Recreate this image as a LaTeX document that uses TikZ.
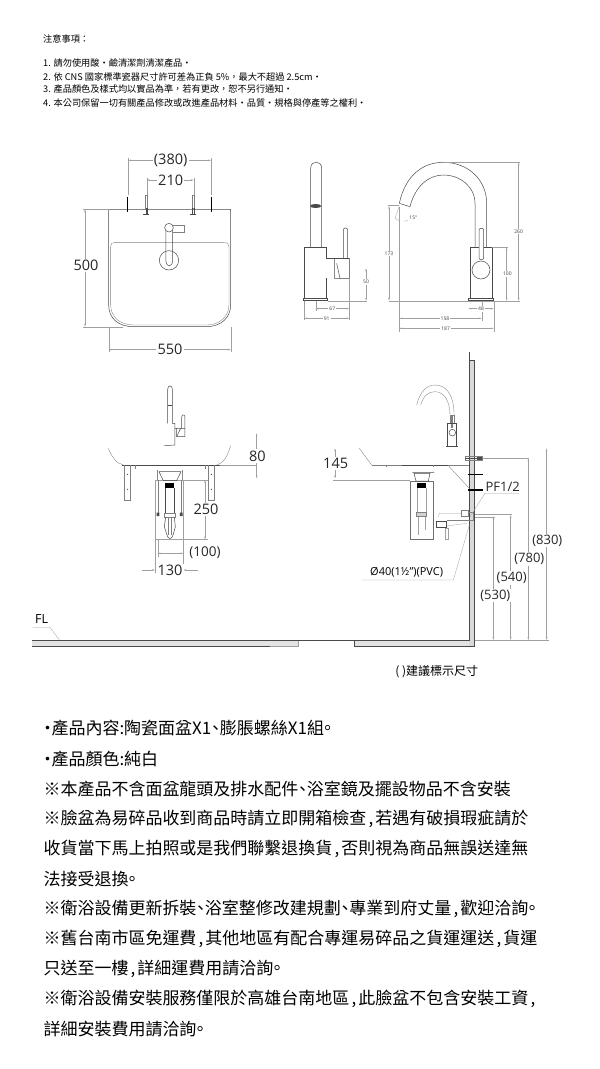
\documentclass[tikz,border=0pt]{standalone}
\usepackage{fontspec}
\usetikzlibrary{arrows.meta}
\setmainfont{Open Sans}
\newfontfamily\cjk{Noto Sans CJK TC}
\definecolor{ink}{HTML}{4A4A4A}
\definecolor{dimc}{HTML}{A0A0A0}
\newcommand{\fc}{\symbol{"FF0C}}
\newcommand{\fcolon}{\symbol{"FF1A}}
\newcommand{\cdun}{\makebox[8.5pt][c]{\symbol{"3001}}}
\newcommand{\cend}{\makebox[7pt][c]{\symbol{"3002}}}
\newcommand{\ccom}{\makebox[9pt][c]{,}}
\newcommand{\cdotmark}{\makebox[8pt][c]{‧}}
\tikzset{
  zoomed/.style={x=0.33333pt,y=-0.33333pt},
  part/.style={draw=ink,line width=0.5pt},
  thin part/.style={draw=ink!70,line width=0.35pt},
  ext/.style={draw=dimc,line width=0.3pt},
  dimline/.style={draw=dimc,line width=0.35pt,{Stealth[length=3pt,width=1.6pt]}-{Stealth[length=3pt,width=1.6pt]}},
  bolt/.style={draw=black,line width=1.2pt},
  big/.style={font=\fontsize{14.5}{15}\selectfont,text=black!85,inner sep=1.2pt,fill=white},
  mid/.style={font=\fontsize{13}{13}\selectfont,text=black!85,inner sep=0.8pt,fill=white},
  tiny/.style={font=\fontsize{5}{5}\selectfont,text=black!75,inner sep=1pt,fill=white},
  note/.style={font=\cjk\fontsize{9.2}{9.2}\selectfont,text=black,anchor=west,inner sep=0pt},
  body/.style={font=\cjk\fontsize{17}{17}\selectfont,text=black,anchor=west,inner sep=0pt},
}
\begin{document}
\begin{tikzpicture}[x=1pt,y=-1pt]
\useasboundingbox (0,0) rectangle (600,1069);
\fill[white] (0,0) rectangle (600,1069);

% header notes
\node[note] (n0) at (43,39) {注意事項\fcolon};
\node[note] (n1) at (43,63.5) {1. 請勿使用酸‧鹼清潔劑清潔產品‧};
\node[note] (n2) at (43,76.5) {2. 依 CNS 國家標準瓷器尺寸許可差為正負 5\%\fc 最大不超過 2.5cm‧};
\node[note] (n3) at (43,89.5) {3. 產品顏色及樣式均以實品為準\fc 若有更改\fc 恕不另行通知‧};
\node[note] (n4) at (43,103) {4. 本公司保留一切有關產品修改或改進產品材料‧品質‧規格與停產等之權利‧};

% basin plan
\begin{scope}[shift={(60,145)},zoomed]
\draw[part] (146,193) -- (512,193) -- (512,480) .. controls (512,520) and (480,545) .. (440,545) -- (220,545) .. controls (175,545) and (146,520) .. (146,480) -- cycle;
\draw[thin part] (152,305) .. controls (152,296) and (156,292) .. (165,292) -- (490,292) .. controls (502,292) and (507,296) .. (507,305) -- (507,480) .. controls (507,515) and (478,540) .. (440,540) -- (220,540) .. controls (180,540) and (152,515) .. (152,480) -- cycle;
\draw[ext] (204,150) -- (204,40) (453,150) -- (453,40);
\draw[dimline] (204,46) -- (453,46);
\node[big] (t380) at (332,45) {(380)};
\draw[ext] (260,150) -- (260,100) (401,150) -- (401,100);
\draw[dimline] (260,105) -- (401,105);
\node[big] (t210) at (332,105) {210};
\draw[bolt] (203,155) -- (203,200) (454,155) -- (454,200);
\draw[thin part] (256,152) rectangle (263,190) (396,152) rectangle (404,190);
\draw[part] (250,209) -- (268,209) (390,209) -- (408,209) (258,190) -- (258,209) (262,190) -- (262,209) (398,190) -- (398,209) (402,190) -- (402,209);
\draw[part] (327,346) circle [radius=29];
\draw[part] (318,250) -- (318,350) .. controls (318,366) and (338,366) .. (338,350) -- (338,250);
\draw[part,fill=white] (327,248) circle [radius=13];
\draw[thin part] (340,240) -- (372,240) -- (372,263) -- (340,263);
\draw[ext] (146,545) -- (146,620) (512,545) -- (512,620) (70,193) -- (146,193) (70,545) -- (190,545);
\draw[dimline] (75,193) -- (75,545);
\node[big] (t500) at (78,362) {500};
\draw[dimline] (146,614) -- (512,614);
\node[big] (t550) at (330,614) {550};
\end{scope}

% faucet side and front
\begin{scope}[shift={(280,150)},zoomed]
\draw[part] (92,292) -- (92,55) .. controls (92,30) and (125,30) .. (125,55) -- (125,292);
\fill[ink] (107,168) ellipse [x radius=17,y radius=6];
\draw[part] (73,445) -- (73,292) -- (140,292) -- (140,325) -- (208,325) (140,385) -- (140,445);
\draw[part] (70,445) rectangle (143,452);
\draw[part] (163,325) -- (163,385) -- (180,385) -- (170,340);
\draw[thin part] (208,325) -- (208,385) -- (180,385);
\draw[part] (190,325) -- (190,240) .. controls (190,232) and (203,232) .. (203,240) -- (203,325);
\draw[ext] (143,452) -- (262,452) (72,452) -- (72,510) (208,385) -- (208,510) (107,452) -- (107,482);
\draw[dimline] (258,355) -- (258,452);
\node[tiny] (t50) at (258,395) {50};
\draw[dimline] (107,476) -- (208,476);
\node[tiny] (t67) at (157,476) {67};
\draw[dimline] (72,505) -- (208,505);
\node[tiny] (t91) at (140,505) {91};
% right faucet
\draw[part] (358,160) .. controls (375,80) and (425,37) .. (490,37) .. controls (565,37) and (620,90) .. (620,160) -- (620,292);
\draw[part] (390,170) .. controls (405,110) and (445,75) .. (490,75) .. controls (540,75) and (585,110) .. (585,160) -- (585,292);
\draw[part] (358,160) -- (390,170);
\draw[part] (571,445) -- (571,292) -- (636,292) -- (636,445);
\draw[part] (565,445) rectangle (641,452);
\draw[part] (603,360) circle [radius=27];
\draw[part,fill=white] (597,325) -- (597,240) .. controls (597,233) and (611,233) .. (611,240) -- (611,325) .. controls (611,330) and (597,330) .. (597,325);
\draw[ext] (327,452) -- (720,452) (490,37) -- (720,37) (636,292) -- (684,292) (325,166) -- (358,166) (358,170) -- (358,545) (605,452) -- (605,512) (641,452) -- (641,545);
\draw[ext] (345,205) -- (358,212) (358,168) -- (345,205);
\draw[ext] (372,214) .. controls (378,214) and (382,212) .. (386,210);
\node[tiny] (t15) at (400,203) {15°};
\draw[dimline] (716,37) -- (716,452);
\node[tiny] (t260) at (716,244) {260};
\draw[dimline] (680,292) -- (680,452);
\node[tiny] (t100) at (682,372) {100};
\draw[dimline] (327,168) -- (327,452);
\node[tiny] (t173) at (327,310) {173};
\draw[dimline] (358,505) -- (605,505);
\node[tiny] (t158) at (495,505) {158};
\draw[dimline] (358,535) -- (641,535);
\node[tiny] (t187) at (497,535) {187};
\draw[dimline] (565,476) -- (641,476);
\node[tiny] (t48) at (603,476) {48};
\end{scope}

% front elevation
\begin{scope}[shift={(20,380)},zoomed]
\draw[part] (443,130) -- (443,28) .. controls (443,14) and (457,14) .. (457,28) -- (457,130) -- (465,130) -- (465,145) -- (495,145) -- (495,170) -- (470,170) -- (470,145);
\draw[part,line width=1pt] (443,76) -- (457,76);
\draw[part] (485,145) -- (485,112) .. controls (485,102) and (495,102) .. (495,112) -- (495,145);
\draw[part] (465,145) -- (465,195) -- (433,197);
\draw[part] (470,170) -- (482,145);
\draw[thin part] (265,205) .. controls (275,230) and (288,250) .. (310,255);
\draw[thin part] (632,197) .. controls (622,230) and (610,250) .. (590,255);
\draw[part] (305,255) -- (600,255);
\draw[ext] (600,255) -- (712,255);
\draw[thin part] (312,255) -- (312,362) -- (332,362) -- (332,255);
\draw[thin part] (565,255) -- (565,362) -- (583,362) -- (583,255);
\draw[thin part] (345,255) -- (345,268) (555,255) -- (555,268);
\fill[ink] (323,283) circle [radius=2] (323,328) circle [radius=2] (574,283) circle [radius=2] (574,328) circle [radius=2];
% trap
\draw[ext] (405,300) rectangle (490,478);
\draw[part] (413,270) -- (413,300) (487,270) -- (487,300) (417,275) -- (483,275) -- (470,302) -- (430,302) -- cycle;
\fill[black] (435,308) rectangle (463,325);
\draw[part] (437,325) -- (437,400) (463,325) -- (463,400);
\draw[thin part] (414,300) -- (414,400) (484,300) -- (484,400);
\fill[ink] (410,398) rectangle (418,408) (480,398) rectangle (488,408);
\draw[thin part] (434,400) rectangle (466,412);
\draw[part] (437,412) -- (433,440) -- (440,462) .. controls (443,480) and (457,480) .. (460,462) -- (466,440) -- (463,412);
\draw[thin part] (446,412) -- (446,465) (454,412) -- (454,465);
\draw[ext] (490,300) -- (565,300) (490,478) -- (565,478) (413,478) -- (413,530) (490,478) -- (490,580) (405,478) -- (405,580);
\draw[dimline] (555,300) -- (555,478);
\node[big] (t250) at (558,388) {250};
\draw[dimline] (710,160) -- (710,295);
\node[big] (t80) at (712,228) {80};
\draw[dimline] (413,520) -- (490,520);
\node[big,font=\fontsize{13.5}{13.5}\selectfont] (t100b) at (555,518) {(100)};
\draw[ext,-{Stealth[length=3pt,width=1.6pt]}] (365,570) -- (405,570);
\draw[ext,-{Stealth[length=3pt,width=1.6pt]}] (533,570) -- (490,570);
\node[big] (t130) at (450,572) {130};
\node[font=\fontsize{12.5}{12.5}\selectfont,inner sep=0pt] (tfl) at (65,718) {FL};
\draw[ext] (38,742) -- (90,742) -- (118,780);
\end{scope}

% floor and wall
\fill[gray!22] (32,640.7) rectangle (297.7,646);
\fill[gray!22] (354.3,640.5) rectangle (469.3,646);
\fill[gray!30] (469.3,360) rectangle (474.7,646);
\draw[ink,line width=0.55pt] (32,640.5) -- (469.3,640.5);
\draw[ink,line width=0.6pt] (32,646) -- (270,646);
\draw[dimc,line width=0.4pt] (270,646) -- (297.7,646) -- (297.7,640.5);
\draw[ink,line width=0.4pt] (354.3,640.5) -- (354.3,646) -- (474.7,646);
\draw[ink,line width=0.5pt] (469.3,352) -- (469.3,640.5) (474.7,360) -- (474.7,646) (469.3,360) -- (474.7,360);

% section
\begin{scope}[shift={(310,350)},zoomed]
\draw[thin part] (320,165) .. controls (330,125) and (350,105) .. (375,105) .. controls (410,105) and (432,135) .. (432,195);
\draw[thin part] (332,165) .. controls (340,138) and (355,125) .. (375,125) .. controls (400,125) and (420,150) .. (420,195);
\draw[thin part] (420,195) rectangle (432,220);
\fill[gray] (423,195) rectangle (430,235);
\draw[part] (413,290) -- (413,220) -- (440,220) -- (440,290);
\draw[part] (408,290) -- (445,290);
\draw[part,fill=white] (427,248) circle [radius=10];
\draw[thin part] (148,295) -- (185,345);
\draw[thin part] (185,345) -- (275,345) (415,345) -- (478,345);
\draw[part,line width=0.9pt] (275,345) -- (415,345);
\draw[thin part] (228,345) -- (228,352) (370,345) -- (370,352);
\draw[thin part] (413,345) -- (478,415);
\draw[ext] (70,390) -- (300,390);
\draw[dimline] (75,295) -- (75,385);
\node[big] (t145) at (77,340) {145};
\draw[bolt] (475,373) -- (520,373) (475,420) -- (520,420);
\draw[thin part] (465,318) rectangle (517,330);
\draw[part,line width=0.9pt] (465,325) -- (505,325);
\fill[ink] (502,321) rectangle (517,331);
\draw[part,draw=ink!80] (302,393) rectangle (370,568);
\draw[part] (307,367) -- (372,367) (312,370) -- (360,370) -- (355,393) -- (318,393) -- cycle;
\fill[black] (322,400) rectangle (348,415);
\draw[ext] (322,415) -- (322,488) (348,415) -- (348,488);
\draw[thin part,fill=gray!35] (320,487) rectangle (350,500);
\draw[ext] (325,500) -- (325,555) (345,500) -- (345,540);
\draw[ext] (385,500) -- (388,490) -- (455,490);
\draw[thin part] (455,482) rectangle (475,500);
\draw[thin part] (475,487) -- (490,487) -- (490,510) -- (478,510);
\draw[part] (380,515) rectangle (410,533);
\draw[thin part] (410,512) -- (478,512);
\draw[ext] (410,528) -- (470,520);
\draw[ext] (405,535) rectangle (413,568);
\draw[ext] (480,500) -- (525,430) -- (627,430);
\node[mid] (tpf) at (578,410) {PF1/2};
\draw[ext] (155,690) -- (430,690) -- (478,525);
\node[font=\fontsize{11}{11}\selectfont,inner sep=0pt] (tdn) at (290,668) {Ø40(1½")(PVC)};
\draw[ext] (494,492) -- (606,492) (494,500) -- (555,500) (494,870) -- (716,870) (520,325) -- (658,325);
\draw[dimline] (550,500) -- (550,870);
\draw[dimline] (602,495) -- (602,870);
\draw[dimline] (655,325) -- (655,870);
\draw[dimline] (710,295) -- (710,870);
\node[mid] (t830) at (712,572) {(830)};
\node[mid] (t780) at (658,627) {(780)};
\node[mid] (t540) at (605,684) {(540)};
\node[mid] (t530) at (556,737) {(530)};
\node[font=\cjk\fontsize{12}{12}\selectfont,inner sep=0pt] (tlegend) at (380,965) {( )建議標示尺寸};
\end{scope}

% body text
\node[body] (b1) at (43.3,728.3) {\cdotmark 產品內容:陶瓷面盆X1\cdun 膨脹螺絲X1組\cend};
\node[body] (b2) at (43.3,759.3) {\cdotmark 產品顏色:純白};
\node[body] (b3) at (43.3,789.3) {※本產品不含面盆龍頭及排水配件\cdun 浴室鏡及擺設物品不含安裝};
\node[body] (b4) at (43.3,819.3) {※臉盆為易碎品收到商品時請立即開箱檢查\ccom 若遇有破損瑕疵請於};
\node[body] (b5) at (43.3,849.3) {收貨當下馬上拍照或是我們聯繫退換貨\ccom 否則視為商品無誤送達無};
\node[body] (b6) at (43.3,879.3) {法接受退換\cend};
\node[body] (b7) at (43.3,909.3) {※衛浴設備更新拆裝\cdun 浴室整修改建規劃\cdun 專業到府丈量\ccom 歡迎洽詢\cend};
\node[body] (b8) at (43.3,939.3) {※舊台南市區免運費\ccom 其他地區有配合專運易碎品之貨運運送\ccom 貨運};
\node[body] (b9) at (43.3,969.3) {只送至一樓\ccom 詳細運費用請洽詢\cend};
\node[body] (b10) at (43.3,999.3) {※衛浴設備安裝服務僅限於高雄台南地區\ccom 此臉盆不包含安裝工資\ccom};
\node[body] (b11) at (43.3,1029.3) {詳細安裝費用請洽詢\cend};
\end{tikzpicture}
\end{document}
